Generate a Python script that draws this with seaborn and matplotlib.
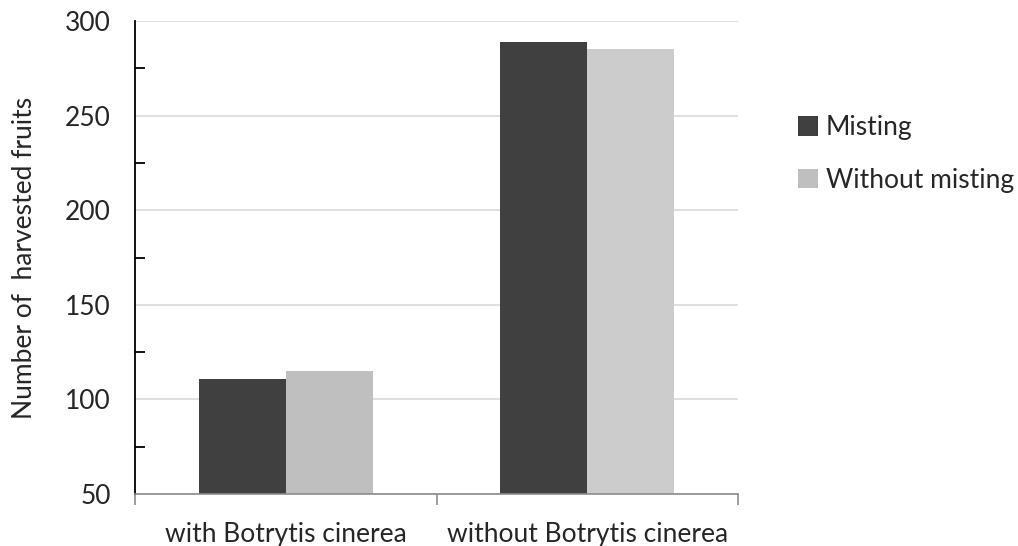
import matplotlib
matplotlib.use("Agg")
import matplotlib.pyplot as plt
import seaborn as sns
import pandas as pd
from matplotlib.ticker import MultipleLocator, FixedLocator

# ----------------------------------------------------------------------
# Data
# ----------------------------------------------------------------------
categories = ["with Botrytis cinerea", "without Botrytis cinerea"]
treatments = ["Misting", "Without misting"]
misting = [111, 289]
without_misting = [115, 285]

df = pd.DataFrame({
    "group": categories * 2,
    "treatment": [treatments[0]] * 2 + [treatments[1]] * 2,
    "fruits": misting + without_misting,
})

sns.set_style("white")
plt.rcParams["font.family"] = ["Lato", "DejaVu Sans"]
FS = 19

fig = plt.figure(figsize=(10.18, 5.46), dpi=100)
ax = fig.add_axes([135 / 1018, 1 - 494 / 546, (738 - 135) / 1018, (494 - 21) / 546])

palette = {"Misting": "#404040", "Without misting": "#BFBFBF"}
sns.barplot(data=df, x="group", y="fruits", hue="treatment", order=categories,
            hue_order=treatments, palette=palette, width=0.576, saturation=1,
            edgecolor="none", linewidth=0, ax=ax, legend=True)

# second light bar is a touch lighter in the original
light_bars = ax.containers[1]
light_bars[1].set_facecolor("#CCCCCC")

ax.set_ylim(50, 300)
ax.set_xlim(-0.5, 1.5)
ax.yaxis.set_major_locator(MultipleLocator(50))
ax.yaxis.set_minor_locator(MultipleLocator(25))
ax.grid(axis="y", color="#D9D9D9", lw=1.2)
ax.set_axisbelow(True)

for side in ["top", "right"]:
    ax.spines[side].set_visible(False)
ax.spines["left"].set_color("black")
ax.spines["left"].set_linewidth(1.3)
ax.spines["bottom"].set_color("#8C8C8C")
ax.spines["bottom"].set_linewidth(1.2)

ax.tick_params(axis="y", which="major", direction="inout", length=17, width=1.3,
               color="black", labelsize=FS, pad=9)
ax.tick_params(axis="y", which="minor", direction="in", length=7, width=1.3,
               color="black", left=True)

# category boundary ticks on x axis
ax.xaxis.set_minor_locator(FixedLocator([-0.5, 0.5, 1.5]))
ax.tick_params(axis="x", which="minor", direction="out", length=8, width=1.2,
               color="#8C8C8C", bottom=True)
ax.tick_params(axis="x", which="major", length=0, labelsize=FS, pad=20)

ax.set_xlabel("")
ax.set_ylabel("Number of  harvested fruits", fontsize=FS, labelpad=20)

ax.legend(loc="center left", bbox_to_anchor=(1.06, 0.719), frameon=False,
          fontsize=FS, handlelength=0.75, handleheight=0.75, handletextpad=0.3,
          labelspacing=1.05)

fig.savefig("out.png", dpi=100)
